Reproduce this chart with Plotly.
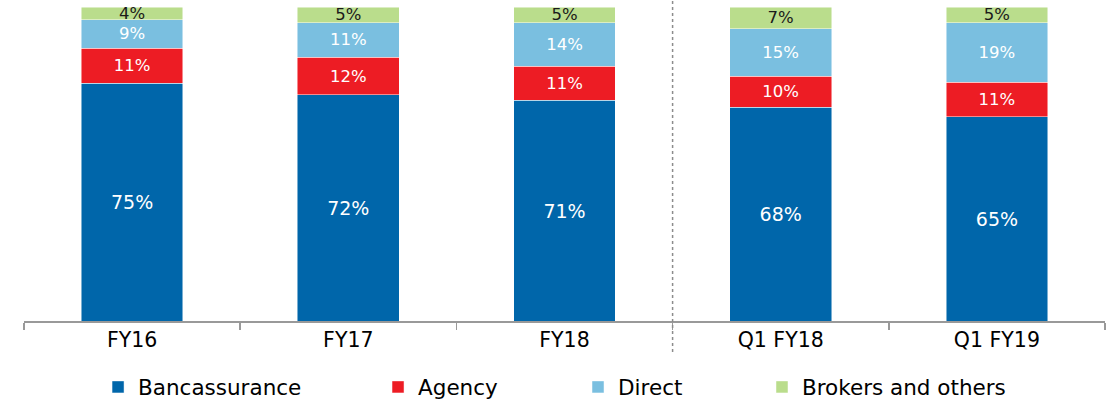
import plotly.graph_objects as go

categories = ["FY16", "FY17", "FY18", "Q1 FY18", "Q1 FY19"]
bancassurance = [75, 72, 71, 68, 65]
agency = [11, 12, 11, 10, 11]
direct = [9, 11, 14, 15, 19]
brokers = [4, 5, 5, 7, 5]

FONT = "DejaVu Sans, Verdana, sans-serif"

series = [
    ("Bancassurance", bancassurance, "#0066AA", "white", 19, "legend", 0.0685),
    ("Agency", agency, "#ED1C24", "white", 16.5, "legend2", 0.3275),
    ("Direct", direct, "#7ABFE0", "white", 16.5, "legend3", 0.5125),
    ("Brokers and others", brokers, "#BADD8C", "#1a1a1a", 16.5, "legend4", 0.6827),
]

fig = go.Figure()
legends = {}
for name, vals, color, tcolor, tsize, leg, lx in series:
    fig.add_trace(go.Bar(
        name=name,
        x=categories,
        y=vals,
        text=[f"{v}%" for v in vals],
        textposition="inside",
        insidetextanchor="middle",
        textangle=0,
        constraintext="none",
        textfont=dict(color=tcolor, size=tsize, family=FONT),
        marker=dict(color=color, line=dict(color="rgba(255,255,255,0.6)", width=0.8)),
        hoverinfo="skip",
        legend=leg,
    ))
    legends[leg] = dict(
        orientation="h",
        x=lx, xanchor="left",
        y=-0.21, yanchor="middle",
        font=dict(size=21.5, family=FONT, color="#000000"),
        bgcolor="rgba(0,0,0,0)",
        itemclick=False,
    )

fig.update_layout(
    barmode="stack",
    barnorm="percent",
    bargap=0.53,
    width=1112,
    height=401,
    margin=dict(l=24, r=7, t=7, b=80, autoexpand=False),
    plot_bgcolor="white",
    paper_bgcolor="white",
    font=dict(family=FONT, size=20, color="#000000"),
    showlegend=True,
    xaxis=dict(
        type="category",
        range=[-0.5, 4.5],
        showline=True,
        linecolor="#999999",
        linewidth=1.5,
        ticks="outside",
        tickson="boundaries",
        ticklen=7,
        tickcolor="#999999",
        tickwidth=1.5,
        showgrid=False,
        tickfont=dict(size=20.5, family=FONT, color="#000000"),
    ),
    yaxis=dict(
        range=[0, 100],
        visible=False,
        showgrid=False,
        zeroline=False,
    ),
    **legends,
)

fig.add_shape(
    type="line", xref="x", yref="paper",
    x0=2.5, x1=2.5, y0=-0.099, y1=1.022,
    line=dict(color="#8c8c8c", width=1.5, dash="dot"),
    layer="above",
)

fig.write_html(
    "out.html",
    config={"displayModeBar": False, "staticPlot": True},
    post_script="document.body.style.margin='0px';document.body.style.padding='0px';document.body.style.overflow='hidden';",
)
